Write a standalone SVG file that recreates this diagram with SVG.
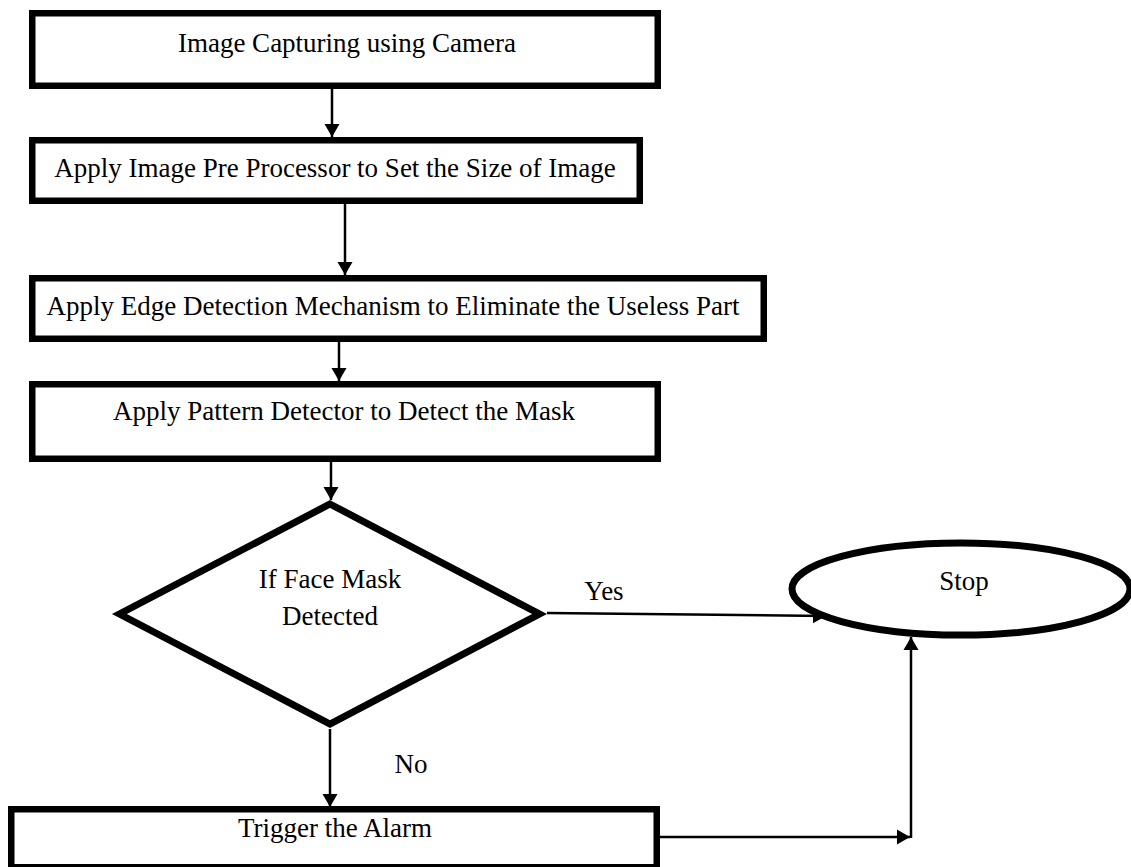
<svg xmlns="http://www.w3.org/2000/svg" width="1131" height="867" viewBox="0 0 1131 867">
  <style>
    .box { fill: #ffffff; stroke: #000000; stroke-width: 6.5; }
    .shape { fill: #ffffff; stroke: #000000; stroke-width: 7; stroke-linejoin: miter; }
    .lbl { font-family: "Liberation Serif", "Times New Roman", serif; font-size: 27px; fill: #000000; text-anchor: middle; }
    .edge { fill: none; stroke: #000000; stroke-width: 2.5; }
  </style>
  <defs>
    <marker id="arrow" markerUnits="userSpaceOnUse" markerWidth="14" markerHeight="16" refX="13" refY="8" orient="auto">
      <path d="M0,0.5 L13,8 L0,15.5 Z" fill="#000000"/>
    </marker>
  </defs>
  <rect width="1131" height="867" fill="#ffffff"/>

  <g id="capture">
    <rect class="box" x="32.25" y="13.25" width="625.5" height="72.5"/>
    <text class="lbl" x="347" y="52">Image Capturing using Camera</text>
  </g>

  <g id="preprocess">
    <rect class="box" x="32.25" y="140.25" width="607.5" height="60.5"/>
    <text class="lbl" x="335" y="177">Apply Image Pre Processor to Set the Size of Image</text>
  </g>

  <g id="edge-detect">
    <rect class="box" x="32.25" y="278.25" width="731.5" height="60.5"/>
    <text class="lbl" x="393" y="315">Apply Edge Detection Mechanism to Eliminate the Useless Part</text>
  </g>

  <g id="pattern-detect">
    <rect class="box" x="32.25" y="384.25" width="625.5" height="74.5"/>
    <text class="lbl" x="344" y="420">Apply Pattern Detector to Detect the Mask</text>
  </g>

  <g id="decision">
    <polygon class="shape" points="330,504 539.5,614 330,724 119.5,614"/>
    <text class="lbl" x="330" y="588">If Face Mask</text>
    <text class="lbl" x="330" y="625">Detected</text>
  </g>

  <g id="stop">
    <ellipse class="shape" cx="961" cy="589" rx="169" ry="46"/>
    <text class="lbl" x="964" y="590">Stop</text>
  </g>

  <g id="alarm">
    <rect class="box" x="11.25" y="809.25" width="645.5" height="58"/>
    <text class="lbl" x="335" y="837">Trigger the Alarm</text>
  </g>

  <g id="connectors">
    <line class="edge" x1="332" y1="89" x2="332" y2="137" marker-end="url(#arrow)"/>
    <line class="edge" x1="345" y1="204" x2="345" y2="275" marker-end="url(#arrow)"/>
    <line class="edge" x1="339" y1="342" x2="339" y2="381" marker-end="url(#arrow)"/>
    <line class="edge" x1="331" y1="462" x2="331" y2="500" marker-end="url(#arrow)"/>
    <line class="edge" x1="547" y1="613" x2="826" y2="616" marker-end="url(#arrow)"/>
    <line class="edge" x1="330" y1="729" x2="330" y2="807" marker-end="url(#arrow)"/>
    <line class="edge" x1="660" y1="837" x2="910" y2="837" marker-end="url(#arrow)"/>
    <line class="edge" x1="911" y1="838" x2="911" y2="637" marker-end="url(#arrow)"/>
    <text class="lbl" x="604" y="600">Yes</text>
    <text class="lbl" x="411" y="773">No</text>
  </g>
</svg>
